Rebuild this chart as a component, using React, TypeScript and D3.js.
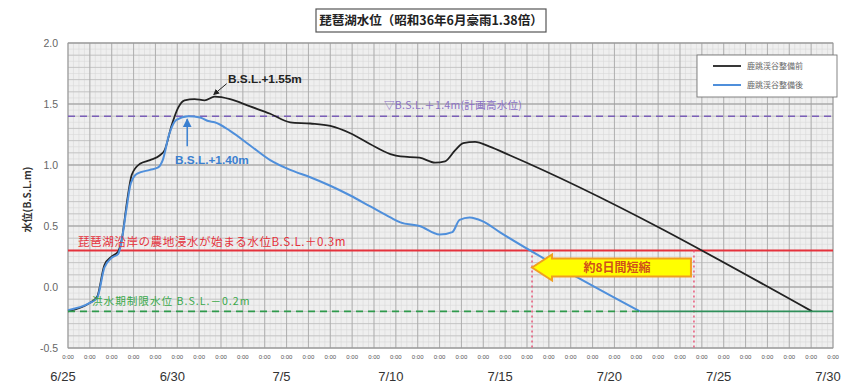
import React from "react";
import * as d3 from "d3";

const W = 848;
const H = 385;

const TITLE = "琵琶湖水位（昭和36年6月豪雨1.38倍）";
const Y_LABEL = "水位(B.S.L.m)";
const SERIES_NAMES = ["鹿跳渓谷整備前", "鹿跳渓谷整備後"];
const Y_TICKS = [-0.5, 0.0, 0.5, 1.0, 1.5, 2.0];
const DATE_LABELS = ["06-25 00", "06-30 00", "07-05 00", "07-10 00", "07-15 00", "07-20 00", "07-25 00", "07-30 00"];
const X_START = "06-25 00";
const X_END = "07-30 00";

// 鹿跳渓谷整備前 (black)
const beforeSeries: [string, number][] = [
  ["06-25 00", -0.2], ["06-26 00", -0.13], ["06-26 08", -0.08], ["06-26 16", 0.18],
  ["06-27 00", 0.25], ["06-27 07", 0.29], ["06-27 11", 0.39], ["06-27 17", 0.71],
  ["06-27 22", 0.92], ["06-28 07", 1.01], ["06-28 18", 1.04], ["06-29 05", 1.08],
  ["06-29 10", 1.12], ["06-29 18", 1.33], ["06-30 01", 1.47], ["06-30 08", 1.53],
  ["06-30 19", 1.54], ["07-01 06", 1.53], ["07-01 17", 1.56], ["07-02 10", 1.54],
  ["07-03 08", 1.48], ["07-04 06", 1.42], ["07-05 04", 1.35], ["07-06 02", 1.34],
  ["07-07 00", 1.32], ["07-07 22", 1.26], ["07-08 20", 1.17], ["07-09 18", 1.09],
  ["07-10 05", 1.07], ["07-11 02", 1.06], ["07-11 19", 1.02], ["07-12 06", 1.03],
  ["07-12 17", 1.12], ["07-13 02", 1.18], ["07-13 15", 1.19], ["07-14 07", 1.15],
  ["07-15 05", 1.08], ["07-29 01", -0.2],
];

// 鹿跳渓谷整備後 (blue)
const afterSeries: [string, number][] = [
  ["06-25 00", -0.19], ["06-26 00", -0.13], ["06-26 08", -0.09], ["06-26 16", 0.16],
  ["06-27 00", 0.24], ["06-27 07", 0.27], ["06-27 10", 0.34], ["06-27 16", 0.63],
  ["06-27 21", 0.85], ["06-28 04", 0.93], ["06-28 18", 0.96], ["06-29 03", 0.98],
  ["06-29 08", 1.04], ["06-29 15", 1.25], ["06-29 23", 1.37], ["06-30 12", 1.40],
  ["07-01 01", 1.39], ["07-01 10", 1.36], ["07-01 17", 1.35], ["07-02 10", 1.28],
  ["07-03 08", 1.16], ["07-04 06", 1.04], ["07-05 04", 0.96], ["07-06 02", 0.90],
  ["07-07 00", 0.83], ["07-07 22", 0.75], ["07-08 20", 0.66], ["07-09 18", 0.57],
  ["07-10 05", 0.53], ["07-11 02", 0.50], ["07-12 00", 0.43], ["07-12 14", 0.45],
  ["07-12 22", 0.55], ["07-13 09", 0.57], ["07-13 23", 0.54], ["07-14 18", 0.45],
  ["07-21 04", -0.2],
];

const PLAN_LEVEL = 1.4;
const FLOOD_LEVEL = 0.3;
const LIMIT_LEVEL = -0.2;
const PEAK_BEFORE_LABEL = "B.S.L.+1.55m";
const PEAK_AFTER_LABEL = "B.S.L.+1.40m";
const PLAN_LABEL = "▽B.S.L.＋1.4m(計画高水位)";
const FLOOD_LABEL = "琵琶湖沿岸の農地浸水が始まる水位B.S.L.＋0.3m";
const LIMIT_LABEL = "洪水期制限水位 B.S.L.－0.2m";
const ARROW_LABEL = "約8日間短縮";

const parse = d3.timeParse("%m-%d %H");
const JP = "'Noto Sans CJK JP', 'Noto Sans', sans-serif";
const LAT = "Arial, 'Liberation Sans', sans-serif";

type P = { t: Date; v: number };
const toPts = (s: [string, number][]): P[] => s.map(([d, v]) => ({ t: parse(d)!, v }));

function descendingCross(pts: P[], level: number): Date {
  let iMax = 0;
  pts.forEach((p, i) => { if (p.v > pts[iMax].v) iMax = i; });
  for (let i = iMax; i < pts.length - 1; i++) {
    const a = pts[i], b = pts[i + 1];
    if (a.v >= level && b.v < level) {
      const f = (a.v - level) / (a.v - b.v);
      return new Date(+a.t + f * (+b.t - +a.t));
    }
  }
  return pts[pts.length - 1].t;
}

export default function App() {
  const left = 68, right = 833, top = 43, bottom = 348;
  const t0 = parse(X_START)!, t1 = parse(X_END)!;
  const x = d3.scaleTime().domain([t0, t1]).range([left, right]);
  const y = d3.scaleLinear().domain([-0.5, 2.0]).range([bottom, top]);

  const before = toPts(beforeSeries);
  const after = toPts(afterSeries);
  const line = d3.line<P>().x(d => x(d.t)).y(d => y(d.v)).curve(d3.curveMonotoneX);

  const days = d3.timeDay.range(t0, d3.timeDay.offset(t1, 1));
  const quarters = d3.timeHour.every(6)!.range(t0, t1);
  const hMinor = d3.range(-0.5, 2.0001, 0.05);
  const hMid = d3.range(-0.5, 2.0001, 0.1);

  const crossAfter = descendingCross(after, FLOOD_LEVEL);
  const crossBefore = descendingCross(before, FLOOD_LEVEL);
  const xa = x(crossAfter), xb = x(crossBefore);
  const afterEnd = after[after.length - 1].t;

  const ay = y(0.16);
  const headW = 20, headH = 13, bodyH = 9;
  const arrowPath = `M${xa},${ay} L${xa + headW},${ay - headH} L${xa + headW},${ay - bodyH} L${xb - 3},${ay - bodyH} L${xb - 3},${ay + bodyH} L${xa + headW},${ay + bodyH} L${xa + headW},${ay + headH} Z`;

  const peakB = before.reduce((m, p) => (p.v > m.v ? p : m), before[0]);
  const peakA = after.reduce((m, p) => (p.v > m.v ? p : m), after[0]);

  const fmt = d3.timeFormat("%-m/%-d");

  return (
    <svg width={W} height={H} style={{ position: "absolute", left: 0, top: 0, background: "#fff" }}>
      <defs>
        <marker id="ah" viewBox="0 0 10 10" refX="9" refY="5" markerWidth="6" markerHeight="6" orient="auto-start-reverse">
          <path d="M0,0 L10,5 L0,10 z" fill="#222" />
        </marker>
        <marker id="ahb" viewBox="0 0 10 10" refX="9" refY="5" markerWidth="6" markerHeight="6" orient="auto-start-reverse">
          <path d="M0,0 L10,5 L0,10 z" fill="#3a7fd0" />
        </marker>
      </defs>
      {/* title */}
      <rect x={316} y={9} width={230} height={23} fill="#fff" stroke="#555" strokeWidth={1.2} />
      <text x={431} y={25} textAnchor="middle" fontFamily={JP} fontWeight="bold" fontSize={12.5} fill="#222">{TITLE}</text>

      {/* plot background */}
      <rect x={left} y={top} width={right - left} height={bottom - top} fill="#efefef" />
      {quarters.map((d, i) => (
        <line key={"q" + i} x1={x(d)} x2={x(d)} y1={top} y2={bottom} stroke="#d8d8d8" strokeWidth={0.6} />
      ))}
      {hMinor.map((v, i) => (
        <line key={"hm" + i} x1={left} x2={right} y1={y(v)} y2={y(v)} stroke="#d8d8d8" strokeWidth={0.6} />
      ))}
      {hMid.map((v, i) => (
        <line key={"hd" + i} x1={left} x2={right} y1={y(v)} y2={y(v)} stroke="#bcbcbc" strokeWidth={0.7} />
      ))}
      {days.map((d, i) => (
        <line key={"d" + i} x1={x(d)} x2={x(d)} y1={top} y2={bottom} stroke="#aaa" strokeWidth={0.9} />
      ))}
      {Y_TICKS.map((v, i) => (
        <line key={"hy" + i} x1={left} x2={right} y1={y(v)} y2={y(v)} stroke="#999" strokeWidth={0.9} />
      ))}
      <rect x={left} y={top} width={right - left} height={bottom - top} fill="none" stroke="#999" strokeWidth={0.8} />

      {/* reference lines */}
      <line x1={left} x2={right} y1={y(PLAN_LEVEL)} y2={y(PLAN_LEVEL)} stroke="#7b5fb8" strokeWidth={1.6} strokeDasharray="7,5" />
      <line x1={left} x2={right} y1={y(FLOOD_LEVEL)} y2={y(FLOOD_LEVEL)} stroke="#e5323c" strokeWidth={2} />
      <line x1={xa} x2={xa} y1={y(FLOOD_LEVEL)} y2={bottom} stroke="#e8587a" strokeWidth={1.5} strokeDasharray="2,3" />
      <line x1={xb} x2={xb} y1={y(FLOOD_LEVEL)} y2={bottom} stroke="#e8587a" strokeWidth={1.5} strokeDasharray="2,3" />

      {/* series */}
      <path d={line(before)!} fill="none" stroke="#222" strokeWidth={1.8} />
      <path d={line(after)!} fill="none" stroke="#4f8fdb" strokeWidth={2} />

      <line x1={left} x2={x(afterEnd)} y1={y(LIMIT_LEVEL)} y2={y(LIMIT_LEVEL)} stroke="#2f9a4c" strokeWidth={1.8} strokeDasharray="7,5" />
      <line x1={x(afterEnd)} x2={right} y1={y(LIMIT_LEVEL)} y2={y(LIMIT_LEVEL)} stroke="#2f8f5a" strokeWidth={1.8} />

      {/* labels on lines */}
      <text x={384} y={y(PLAN_LEVEL) - 7} fontFamily={JP} fontSize={10.5} letterSpacing={0.3} fill="#8a6fc4">{PLAN_LABEL}</text>
      <text x={78} y={y(FLOOD_LEVEL) - 4} fontFamily={JP} fontSize={11.6} letterSpacing={0.5} fill="#e5323c">{FLOOD_LABEL}</text>
      <text x={92} y={y(LIMIT_LEVEL) - 6} fontFamily={JP} fontSize={10.6} letterSpacing={1} fill="#3aa84a">{LIMIT_LABEL}</text>

      {/* peak annotations */}
      <line x1={x(peakB.t) + 12} x2={x(peakB.t) - 1} y1={y(peakB.v) - 13} y2={y(peakB.v) - 2} stroke="#222" strokeWidth={1} markerEnd="url(#ah)" />
      <text x={228} y={y(peakB.v) - 14} fontFamily={LAT} fontWeight="bold" fontSize={11.8} fill="#222">{PEAK_BEFORE_LABEL}</text>
      <line x1={x(peakA.t) - 1} x2={x(peakA.t) - 1} y1={y(peakA.v) + 30} y2={y(peakA.v) + 3} stroke="#3a7fd0" strokeWidth={1.5} markerEnd="url(#ahb)" />
      <text x={175} y={y(peakA.v) + 48} fontFamily={LAT} fontWeight="bold" fontSize={11.8} fill="#3a7fd0">{PEAK_AFTER_LABEL}</text>

      {/* arrow */}
      <path d={arrowPath} fill="#ffff00" stroke="#f0a020" strokeWidth={2} />
      <text x={(xa + headW + xb) / 2 - 6} y={ay + 4.5} textAnchor="middle" fontFamily={JP} fontWeight="bold" fontSize={12} fill="#d0501a">{ARROW_LABEL}</text>

      {/* legend */}
      <rect x={697} y={55} width={140} height={42} fill="#fff" stroke="#777" strokeWidth={0.9} />
      <line x1={713} x2={741} y1={66} y2={66} stroke="#222" strokeWidth={1.8} />
      <text x={747} y={69} fontFamily={JP} fontSize={8} fill="#666">{SERIES_NAMES[0]}</text>
      <line x1={713} x2={741} y1={85} y2={85} stroke="#4f8fdb" strokeWidth={2} />
      <text x={747} y={88} fontFamily={JP} fontSize={8} fill="#666">{SERIES_NAMES[1]}</text>

      {/* y axis */}
      {Y_TICKS.map((v, i) => (
        <text key={"yt" + i} x={58} y={y(v) + 4} textAnchor="end" fontFamily={LAT} fontSize={10.5} fill="#666">{v.toFixed(1)}</text>
      ))}
      <text transform={`translate(31,${(top + bottom) / 2 + 4}) rotate(-90)`} textAnchor="middle" fontFamily={JP} fontWeight="bold" fontSize={10} fill="#333">{Y_LABEL}</text>

      {/* x axis */}
      {days.map((d, i) => (
        <text key={"xt" + i} x={x(d)} y={359} textAnchor="middle" fontFamily={LAT} fontSize={6} fill="#555">0:00</text>
      ))}
      {DATE_LABELS.map((s, i) => {
        const d = parse(s)!;
        return (
          <text key={"dl" + i} x={x(d) - 5} y={381} textAnchor="middle" fontFamily={LAT} fontSize={13} fill="#333">{fmt(d)}</text>
        );
      })}
    </svg>
  );
}
